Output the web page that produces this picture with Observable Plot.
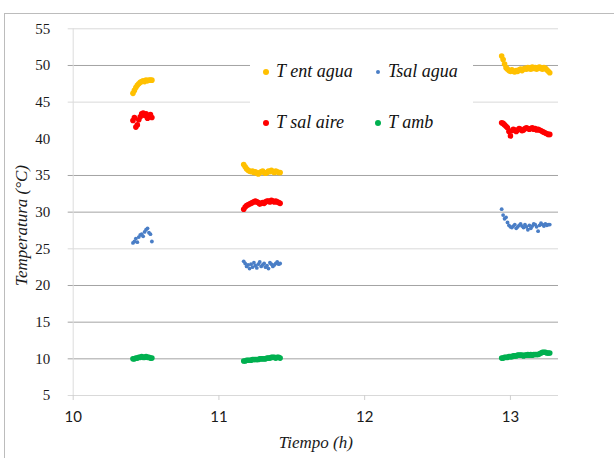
<!DOCTYPE html>
<html><head><meta charset="utf-8">
<script src="https://cdn.jsdelivr.net/npm/d3@7"></script>
<script src="https://cdn.jsdelivr.net/npm/@observablehq/plot@0.6"></script>
<style>
body{margin:0;background:#fff;}
#wrap{position:relative;width:614px;height:458px;overflow:hidden;background:#fff;}
#frame{position:absolute;left:4px;top:13px;width:700px;height:500px;border:1px solid #bcbcbc;box-sizing:border-box;}
#chart{position:absolute;left:0;top:0;}
#legend{position:absolute;left:250px;top:42px;width:223px;height:94px;background:#fff;}
.item{position:absolute;font-family:'Liberation Serif','Times New Roman',serif;font-style:italic;font-size:18px;color:#111;line-height:20px;white-space:nowrap;}
.mk{position:absolute;border-radius:50%;}
</style></head><body>
<div id="wrap"><div id="frame"></div><div id="chart"></div><div id="legend"></div></div>
<script>
// ---- data ----
const times = [
  10.41,10.42,10.43,10.44,10.45,10.46,10.47,10.48,10.49,10.50,10.51,10.52,10.53,10.54,
  11.17,11.18,11.19,11.20,11.21,11.22,11.23,11.24,11.25,11.26,11.27,11.28,11.29,11.30,11.31,11.32,11.33,11.34,11.35,11.36,11.37,11.38,11.39,11.40,11.41,11.42,
  12.94,12.95,12.96,12.97,12.98,12.99,13.00,13.01,13.02,13.03,13.04,13.05,13.06,13.07,13.08,13.09,13.10,13.11,13.12,13.13,13.14,13.15,13.16,13.17,13.18,13.19,13.20,13.21,13.22,13.23,13.24,13.25,13.26,13.27
];
const tEntAgua = [
  46.2,46.6,47.0,47.3,47.5,47.7,47.8,47.9,47.8,48.0,47.9,48.0,48.0,48.0,
  36.5,36.2,35.9,35.7,35.6,35.5,35.6,35.4,35.5,35.3,35.2,35.4,35.5,35.6,35.4,35.3,35.4,35.6,35.5,35.7,35.5,35.4,35.6,35.5,35.4,35.4,
  51.3,50.8,50.2,49.7,49.5,49.3,49.2,49.4,49.2,49.1,49.3,49.2,49.4,49.5,49.3,49.5,49.6,49.5,49.7,49.6,49.5,49.8,49.6,49.7,49.5,49.7,49.8,49.6,49.5,49.7,49.6,49.4,49.2,49.0
];
const tSalAgua = [
  25.8,26.0,26.4,25.9,26.6,26.9,27.0,26.7,27.3,27.6,27.8,27.2,27.0,26.0,
  23.3,23.0,22.6,22.8,22.3,22.9,22.5,23.1,22.7,22.4,22.9,23.2,22.6,22.8,23.0,22.5,22.7,22.3,23.1,22.9,22.6,22.8,23.0,23.2,22.9,23.0,
  30.4,29.6,29.1,29.3,28.6,28.2,28.0,27.9,28.1,28.3,27.8,28.0,28.2,28.4,28.1,27.9,28.3,28.0,27.6,28.2,27.8,28.1,28.4,28.3,28.0,27.4,28.2,28.5,28.3,28.1,28.4,28.2,28.3,28.3
];
const tSalAire = [
  42.5,42.9,41.6,41.9,42.6,43.0,43.4,43.5,43.2,43.4,42.8,43.1,43.3,42.9,
  30.4,30.7,30.9,31.0,31.1,31.2,31.3,31.4,31.5,31.4,31.3,31.1,31.2,31.3,31.2,31.4,31.5,31.5,31.4,31.6,31.5,31.4,31.5,31.4,31.3,31.2,
  42.2,42.1,41.9,41.7,41.5,41.0,40.4,41.1,41.3,41.2,41.0,41.2,41.4,41.3,41.1,41.2,41.4,41.5,41.4,41.3,41.4,41.5,41.3,41.4,41.2,41.3,41.2,41.1,41.0,40.9,40.8,40.7,40.6,40.6
];
const tAmb = [
  10.0,10.0,10.1,10.1,10.2,10.2,10.3,10.2,10.2,10.3,10.2,10.2,10.1,10.1,
  9.7,9.7,9.8,9.8,9.8,9.8,9.9,9.9,9.9,9.9,9.9,10.0,10.0,10.0,10.0,10.0,10.1,10.1,10.1,10.2,10.2,10.2,10.1,10.2,10.2,10.1,
  10.1,10.1,10.2,10.2,10.2,10.3,10.3,10.3,10.4,10.4,10.4,10.5,10.5,10.5,10.5,10.4,10.5,10.5,10.6,10.5,10.6,10.5,10.6,10.6,10.6,10.6,10.7,10.8,10.9,10.9,10.9,10.8,10.8,10.8
];
const seriesNames = ["T ent agua", "Tsal agua", "T sal aire", "T amb"];
const xTicks = [10, 11, 12, 13];
const yTicks = [5, 10, 15, 20, 25, 30, 35, 40, 45, 50, 55];
const xTitle = "Tiempo (h)";
const yTitle = "Temperatura (°C)";

// ---- styling ----
const serif = "'Liberation Serif', 'Times New Roman', serif";
const colors = ["#FFC000", "#4A7EC6", "#FF0000", "#00B050"];
const radii = [2.8, 1.9, 2.8, 2.8];
const values = [tEntAgua, tSalAgua, tSalAire, tAmb];
const lightGrid = [5, 25, 45, 55];
const darkGrid = [10, 15, 20, 30, 35, 50];

const dotMarks = values.map((vals, k) =>
  Plot.dot(times, {x: d => d, y: (d, i) => vals[i], fill: colors[k], r: radii[k], stroke: null})
);

const chart = Plot.plot({
  width: 614, height: 458,
  marginLeft: 72.7, marginRight: 56, marginTop: 28.3, marginBottom: 63,
  x: {domain: [10, 13.33]},
  y: {domain: [5, 55]},
  style: {background: "transparent", color: "#1a1a1a", overflow: "visible"},
  marks: [
    Plot.ruleY(lightGrid, {stroke: "#d9d9d9", insetLeft: -5}),
    Plot.ruleY(darkGrid, {stroke: "#a3a3a3", insetLeft: -5}),
    Plot.ruleX([10], {stroke: "#dcdcdc"}),
    Plot.axisY({ticks: yTicks, tickSize: 0, tickPadding: 23, label: null,
      fontFamily: serif, fontSize: 15}),
    Plot.axisX({ticks: xTicks, tickSize: 5, tickPadding: 11, label: null, stroke: "#cfcfcf",
      tickFormat: d => String(d), fontFamily: "Lato", fontSize: 15}),
    ...dotMarks,
    Plot.text([yTitle], {frameAnchor: "top-left", dx: -51.7, dy: 196.7, rotate: -90,
      textAnchor: "middle", lineAnchor: "middle",
      fontFamily: serif, fontStyle: "italic", fontSize: 17, fill: "#1a1a1a"}),
    Plot.text([xTitle], {frameAnchor: "bottom", dy: 47, lineAnchor: "middle",
      fontFamily: serif, fontStyle: "italic", fontSize: 17, fill: "#1a1a1a"})
  ]
});
document.getElementById("chart").appendChild(chart);

// ---- legend (overlay inside plot area) ----
const legend = document.getElementById("legend");
const pos = [[16, 30], [128, 30], [16, 81], [128, 81]];
seriesNames.forEach((name, k) => {
  const [cx, cy] = pos[k];
  const r = radii[k] + 0.2;
  const m = document.createElement("div");
  m.className = "mk";
  m.style.cssText = `left:${cx - r}px;top:${cy - r}px;width:${2 * r}px;height:${2 * r}px;background:${colors[k]};`;
  legend.appendChild(m);
  const t = document.createElement("div");
  t.className = "item";
  t.style.left = (cx + 10) + "px";
  t.style.top = (cy - 11) + "px";
  t.textContent = name;
  legend.appendChild(t);
});
</script>
</body></html>
